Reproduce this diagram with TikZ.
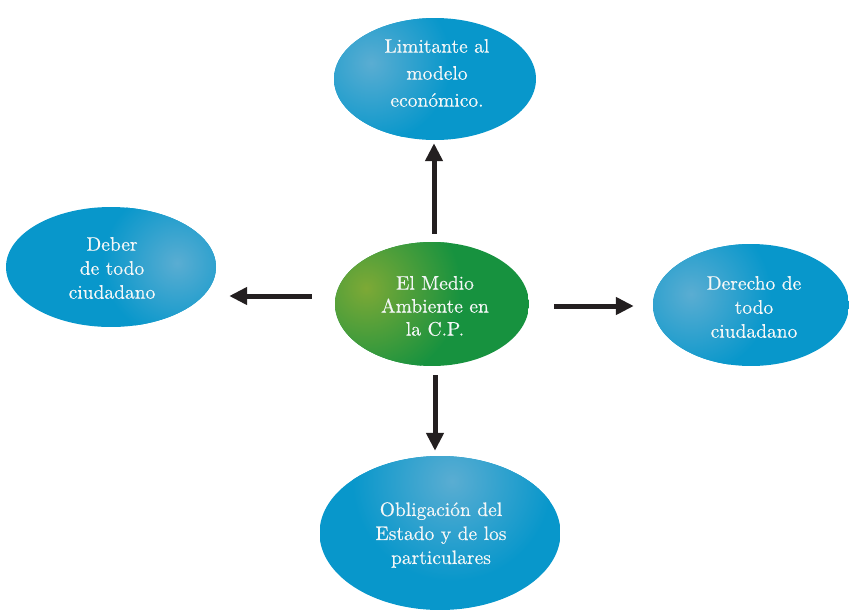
\documentclass[tikz,border=0pt]{standalone}
\usepackage{fontspec}
\usetikzlibrary{shapes.geometric,arrows.meta,calc}
\newfontface\bubblefont{lmroman10-regular.otf}[FakeBold=0.35]
\definecolor{bluebase}{HTML}{0897CB}
\definecolor{bluehl}{HTML}{5AADD2}
\definecolor{greenbase}{HTML}{17923F}
\definecolor{greenhl}{HTML}{7DA936}
\definecolor{arrowdark}{HTML}{231F20}
\definecolor{textwhite}{HTML}{F4F7F7}
\tikzset{
  bubble/.style={ellipse, draw=none, inner sep=0pt},
  glow/.style n args={4}{path picture={
      \fill[#1] (path picture bounding box.south west) rectangle (path picture bounding box.north east);
      \shade[inner color=#2, outer color=#1] ([shift={(#3)}]path picture bounding box.center) circle (#4);
    }},
  label text/.style={align=center, text=textwhite, inner sep=0pt,
      font=\bubblefont\fontsize{19.5}{24}\selectfont},
  thickarrow/.style={arrowdark, line width=5pt,
      -{Triangle[length=18pt,width=17pt]}}
}
\begin{document}
\begin{tikzpicture}[x=1pt,y=-1pt]
  \useasboundingbox (0,0) rectangle (849,611);

  % central topic
  \node[bubble, minimum width=194pt, minimum height=124pt,
        glow={greenbase}{greenhl}{-66,-16}{95pt}] (c) at (432,304) {};
  \node[label text, font=\bubblefont\fontsize{19.5}{23}\selectfont] (c-txt) at (435,306)
    {El Medio\\Ambiente en\\la C.P.};

  % surrounding aspects
  \node[bubble, minimum width=202pt, minimum height=122pt,
        glow={bluebase}{bluehl}{-64,-16}{80pt}] (t) at (435,79) {};
  \node[label text, font=\bubblefont\fontsize{19.5}{27}\selectfont] (t-txt) at (437,73)
    {Limitante al\\modelo\\económico.};

  \node[bubble, minimum width=210pt, minimum height=120pt,
        glow={bluebase}{bluehl}{66,-4}{75pt}] (l) at (111,267) {};
  \node[label text] (l-txt) at (112,268) {Deber\\de todo\\ciudadano};

  \node[bubble, minimum width=196pt, minimum height=122pt,
        glow={bluebase}{bluehl}{-60,-11}{80pt}] (r) at (751,305) {};
  \node[label text] (r-txt) at (754,307) {Derecho de\\todo\\ciudadano};

  \node[bubble, minimum width=241pt, minimum height=154pt,
        glow={bluebase}{bluehl}{12,-52}{100pt}] (b) at (440,533) {};
  \node[label text] (b-txt) at (441,535)
    {Obligación del\\Estado y de los\\particulares};

  % connectors
  \draw[thickarrow, shorten <=8pt, shorten >=3pt]
    ([xshift=2pt]c.north) -- ([xshift=2pt]c.north |- t.south);
  \draw[thickarrow, shorten <=9pt, shorten >=5pt]
    ([xshift=3pt]c.south) -- ([xshift=3pt]c.south |- b.north);
  \draw[thickarrow, shorten <=23pt, shorten >=13pt]
    ([yshift=8pt]c.west) -- ([yshift=8pt]c.west -| l.east);
  \draw[thickarrow, shorten <=25pt, shorten >=19pt]
    ([yshift=-2pt]c.east) -- ([yshift=-2pt]c.east -| r.west);
\end{tikzpicture}
\end{document}
